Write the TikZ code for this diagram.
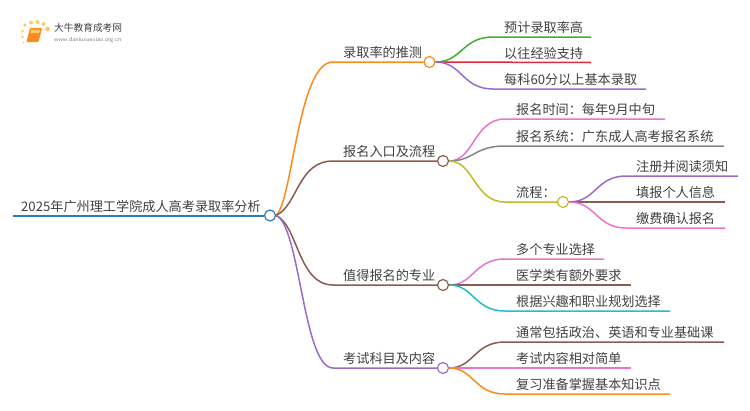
\documentclass[tikz,border=0pt]{standalone}
\usepackage{fontspec}
\newfontfamily\cjk{Noto Sans CJK SC}
\definecolor{cOrange}{HTML}{FF8A1C}
\definecolor{cGreen}{HTML}{3FB02F}
\definecolor{cRed}{HTML}{E8263C}
\definecolor{cPurple}{HTML}{9A6BCB}
\definecolor{cBrown}{HTML}{8C5B50}
\definecolor{cPink}{HTML}{E874CC}
\definecolor{cGrey}{HTML}{868686}
\definecolor{cOlive}{HTML}{BFBC25}
\definecolor{cBlue}{HTML}{2A7DB8}
\definecolor{cCyan}{HTML}{1FBFD0}
\definecolor{cText}{HTML}{404040}
\definecolor{cSun}{HTML}{FBCB6A}
\tikzset{
    label/.style={font={\cjk\fontsize{13.15}{13}\selectfont}, text=cText, anchor=base west, inner sep=0pt},
    dot/.style={circle, draw=#1, fill=white, line width=1.2pt, minimum size=11pt, inner sep=0pt},
    branch/.style={draw=#1, line width=1.5pt},
}
\begin{document}
\begin{tikzpicture}[x=1pt, y=-1pt]
        \useasboundingbox (0,0) rectangle (750,410);
        % logo
        \foreach \px/\py/\pr in {25/25/1.8, 31/22.5/2, 37.5/22/2, 43.5/24/2, 47.5/29/2.4, 22.5/31/1.5, 22.5/37/1.3, 23.5/42.5/1}
            \fill[cSun] (\px,\py) circle (\pr);
        \fill[cOrange, rounded corners=1pt] (30,28) -- (42,28) -- (38.5,42) -- (26.5,42) -- cycle;
        \fill[cSun] (31.5,29.5) -- (40,29.5) -- (39,33) -- (30.5,33) -- cycle;
        \node[font={\cjk\fontsize{9.7}{10}\selectfont}, text=cText, anchor=base west, inner sep=0pt] (logoName) at (54,31) {大牛教育成考网};
        \node[font={\fontsize{6}{6}\selectfont\sffamily}, text=gray, anchor=base west, inner sep=0pt] (logoUrl) at (54,41) {www.daniuxuexiao.org.cn};
        % root
        \coordinate (rootStart) at (13,215.5);
        \node[dot=cBlue] (root) at (270,215.5) {};
        \node[label] (rootText) at (21,211) {2025年广州理工学院成人高考录取率分析};
        \draw[branch=cBlue, line width=2pt] (rootStart) -- (root.west);
        % first level
        \node[dot=cOrange] (rate) at (429.5,62) {};
        \node[dot=cBrown] (entry) at (443,161) {};
        \node[dot=cBrown] (major) at (443,285) {};
        \node[dot=cPurple] (exam) at (443,368) {};
        \node[label] (rateText) at (343,57.5) {录取率的推测};
        \node[label] (entryText) at (343,156.5) {报名入口及流程};
        \node[label] (majorText) at (343,280.5) {值得报名的专业};
        \node[label] (examText) at (343,363.5) {考试科目及内容};
        \draw[branch=cOrange] (root.east) .. controls (293,200) and (298,62) .. (333,62) -- (rate.west);
        \draw[branch=cBrown] (root.east) .. controls (298,205) and (298,161) .. (333,161) -- (entry.west);
        \draw[branch=cBrown] (root.east) .. controls (298,225) and (298,285) .. (333,285) -- (major.west);
        \draw[branch=cPurple] (root.east) .. controls (300,225) and (303,368) .. (333,368) -- (exam.west);
        % rate leaves
        \coordinate (rateA) at (591,37);
        \coordinate (rateB) at (591,62.5);
        \coordinate (rateC) at (646,89);
        \node[label] (rateAText) at (504,32.5) {预计录取率高};
        \node[label] (rateBText) at (504,58.5) {以往经验支持};
        \node[label] (rateCText) at (504,84.5) {每科60分以上基本录取};
        \draw[branch=cGreen] (rate.east) .. controls (462,62) and (462,37) .. (493,37) -- (rateA);
        \draw[branch=cRed] (rate.east) -- (rateB);
        \draw[branch=cPurple] (rate.east) .. controls (462,62) and (462,89) .. (493,89) -- (rateC);
        % entry leaves
        \coordinate (entryA) at (665,119);
        \coordinate (entryB) at (724,146);
        \node[dot=cOlive] (flow) at (563,202) {};
        \node[label] (entryAText) at (516,114.5) {报名时间：每年9月中旬};
        \node[label] (entryBText) at (516,141.5) {报名系统：广东成人高考报名系统};
        \node[label] (flowText) at (516,197.5) {流程：};
        \draw[branch=cPink] (entry.east) .. controls (474,161) and (474,119) .. (505,119) -- (entryA);
        \draw[branch=cGrey] (entry.east) .. controls (474,161) and (474,146) .. (505,146) -- (entryB);
        \draw[branch=cOlive] (entry.east) .. controls (474,161) and (474,202) .. (505,202) -- (flow.west);
        % flow leaves
        \coordinate (flowA) at (738,176);
        \coordinate (flowB) at (725,202);
        \coordinate (flowC) at (725,228);
        \node[label] (flowAText) at (636,171.5) {注册并阅读须知};
        \node[label] (flowBText) at (636,197.5) {填报个人信息};
        \node[label] (flowCText) at (636,223.5) {缴费确认报名};
        \draw[branch=cPurple] (flow.east) .. controls (596,202) and (596,176) .. (626,176) -- (flowA);
        \draw[branch=cBrown] (flow.east) -- (flowB);
        \draw[branch=cPink] (flow.east) .. controls (596,202) and (596,228) .. (626,228) -- (flowC);
        % major leaves
        \coordinate (majorA) at (604,259);
        \coordinate (majorB) at (631,285);
        \coordinate (majorC) at (670,311);
        \node[label] (majorAText) at (516,254.5) {多个专业选择};
        \node[label] (majorBText) at (516,280.5) {医学类有额外要求};
        \node[label] (majorCText) at (516,306.5) {根据兴趣和职业规划选择};
        \draw[branch=cPink] (major.east) .. controls (474,285) and (474,259) .. (505,259) -- (majorA);
        \draw[branch=cBrown] (major.east) -- (majorB);
        \draw[branch=cCyan] (major.east) .. controls (474,285) and (474,311) .. (505,311) -- (majorC);
        % exam leaves
        \coordinate (examA) at (724,342);
        \coordinate (examB) at (631,368);
        \coordinate (examC) at (670,394);
        \node[label] (examAText) at (516,337.5) {通常包括政治、英语和专业基础课};
        \node[label] (examBText) at (516,363.5) {考试内容相对简单};
        \node[label] (examCText) at (516,389.5) {复习准备掌握基本知识点};
        \draw[branch=cBrown] (exam.east) .. controls (474,368) and (474,342) .. (505,342) -- (examA);
        \draw[branch=cPink] (exam.east) -- (examB);
        \draw[branch=cOrange] (exam.east) .. controls (474,368) and (474,394) .. (505,394) -- (examC);
    \end{tikzpicture}
\end{document}
